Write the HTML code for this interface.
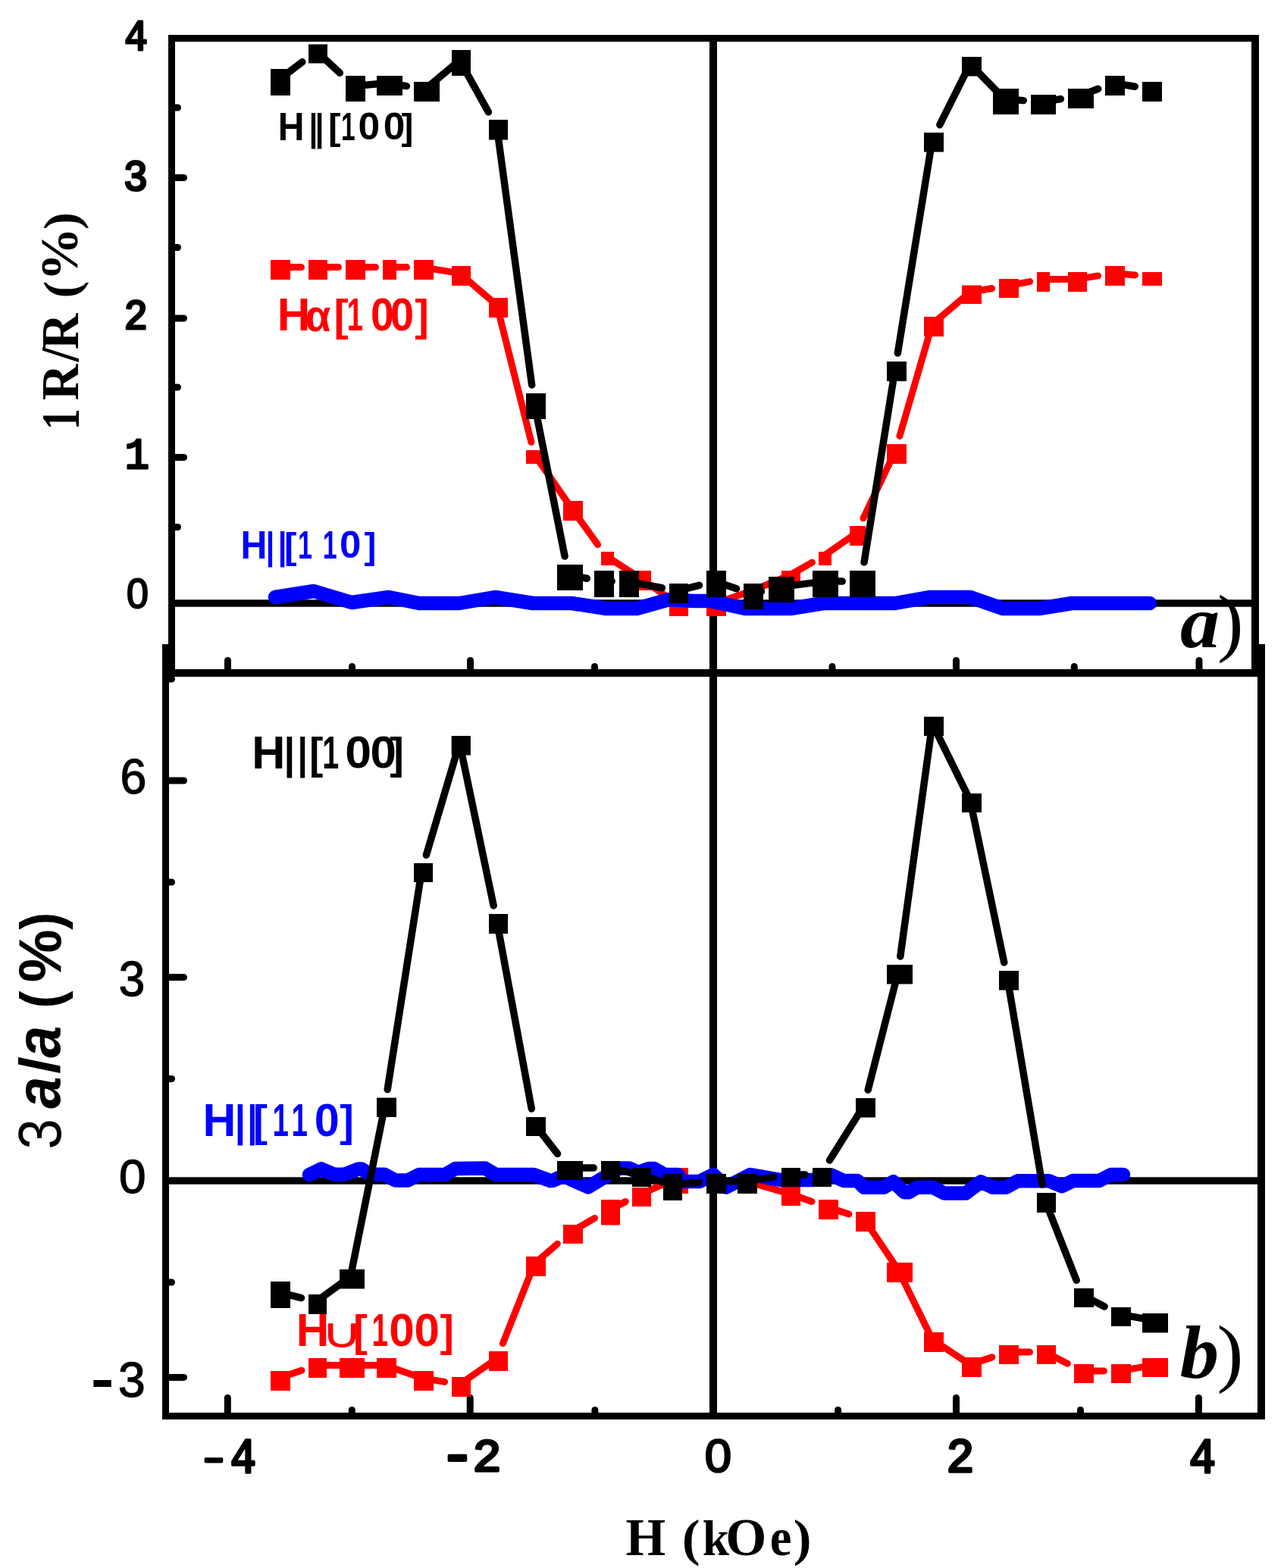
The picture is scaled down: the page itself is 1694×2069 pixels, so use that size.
<!DOCTYPE html>
<html><head><meta charset="utf-8"><title>plot</title>
<style>html,body{margin:0;padding:0;background:#fff;}svg{display:block;}</style></head>
<body><svg width="1694" height="2069" viewBox="0 0 1694 2069">
<rect width="1694" height="2069" fill="#fff"/>
<path d="M214 850H1669V1873H214Z M223 859V1864H1659V859Z" fill="#000" fill-rule="evenodd"/>
<rect x="222" y="46" width="1439" height="847" fill="#fff"/>
<path d="M222 46H1661V893H222Z M231 55V883H1651V55Z" fill="#000" fill-rule="evenodd"/>
<line x1="231" y1="234.5" x2="242.5" y2="234.5" stroke="#000" stroke-width="9" stroke-linecap="round"/>
<line x1="231" y1="420" x2="242.5" y2="420" stroke="#000" stroke-width="9" stroke-linecap="round"/>
<line x1="231" y1="603.5" x2="242.5" y2="603.5" stroke="#000" stroke-width="9" stroke-linecap="round"/>
<line x1="231" y1="142" x2="234.5" y2="142" stroke="#000" stroke-width="9" stroke-linecap="round"/>
<line x1="231" y1="326.5" x2="234.5" y2="326.5" stroke="#000" stroke-width="9" stroke-linecap="round"/>
<line x1="231" y1="511" x2="234.5" y2="511" stroke="#000" stroke-width="9" stroke-linecap="round"/>
<line x1="231" y1="695.5" x2="234.5" y2="695.5" stroke="#000" stroke-width="9" stroke-linecap="round"/>
<line x1="300.5" y1="883" x2="300.5" y2="871.5" stroke="#000" stroke-width="9" stroke-linecap="round"/>
<line x1="620.5" y1="883" x2="620.5" y2="871.5" stroke="#000" stroke-width="9" stroke-linecap="round"/>
<line x1="1261.5" y1="883" x2="1261.5" y2="871.5" stroke="#000" stroke-width="9" stroke-linecap="round"/>
<line x1="1582" y1="883" x2="1582" y2="871.5" stroke="#000" stroke-width="9" stroke-linecap="round"/>
<line x1="464.5" y1="883" x2="464.5" y2="879.5" stroke="#000" stroke-width="9" stroke-linecap="round"/>
<line x1="784.5" y1="883" x2="784.5" y2="879.5" stroke="#000" stroke-width="9" stroke-linecap="round"/>
<line x1="1098" y1="883" x2="1098" y2="879.5" stroke="#000" stroke-width="9" stroke-linecap="round"/>
<line x1="1417.3" y1="883" x2="1417.3" y2="879.5" stroke="#000" stroke-width="9" stroke-linecap="round"/>
<line x1="223" y1="1030" x2="242.5" y2="1030" stroke="#000" stroke-width="9" stroke-linecap="round"/>
<line x1="223" y1="1289.6" x2="242.5" y2="1289.6" stroke="#000" stroke-width="9" stroke-linecap="round"/>
<line x1="223" y1="1817.4" x2="242.5" y2="1817.4" stroke="#000" stroke-width="9" stroke-linecap="round"/>
<line x1="223" y1="896" x2="226.5" y2="896" stroke="#000" stroke-width="9" stroke-linecap="round"/>
<line x1="223" y1="1164" x2="226.5" y2="1164" stroke="#000" stroke-width="9" stroke-linecap="round"/>
<line x1="223" y1="1423.5" x2="226.5" y2="1423.5" stroke="#000" stroke-width="9" stroke-linecap="round"/>
<line x1="223" y1="1692" x2="226.5" y2="1692" stroke="#000" stroke-width="9" stroke-linecap="round"/>
<line x1="300.3" y1="1864" x2="300.3" y2="1844.5" stroke="#000" stroke-width="9" stroke-linecap="round"/>
<line x1="620.2" y1="1864" x2="620.2" y2="1844.5" stroke="#000" stroke-width="9" stroke-linecap="round"/>
<line x1="1261.5" y1="1864" x2="1261.5" y2="1844.5" stroke="#000" stroke-width="9" stroke-linecap="round"/>
<line x1="1581.4" y1="1864" x2="1581.4" y2="1844.5" stroke="#000" stroke-width="9" stroke-linecap="round"/>
<line x1="464.3" y1="1864" x2="464.3" y2="1860.5" stroke="#000" stroke-width="9" stroke-linecap="round"/>
<line x1="784.9" y1="1864" x2="784.9" y2="1860.5" stroke="#000" stroke-width="9" stroke-linecap="round"/>
<line x1="1105.6" y1="1864" x2="1105.6" y2="1860.5" stroke="#000" stroke-width="9" stroke-linecap="round"/>
<line x1="1425.5" y1="1864" x2="1425.5" y2="1860.5" stroke="#000" stroke-width="9" stroke-linecap="round"/>
<line x1="231" y1="796" x2="1651" y2="796" stroke="#000" stroke-width="9.5" stroke-linecap="butt"/>
<line x1="223" y1="1558" x2="1659" y2="1558" stroke="#000" stroke-width="9.5" stroke-linecap="butt"/>
<line x1="941" y1="55" x2="941" y2="883" stroke="#000" stroke-width="10" stroke-linecap="butt"/>
<line x1="941" y1="893" x2="941" y2="1864" stroke="#000" stroke-width="10" stroke-linecap="butt"/>
<path d="M368 352.6L397.5 352.6M417.5 352.6L446.5 352.6M467 352.6L495.5 352.6M512 352.6L536.5 352.6M557 352.6L606.5 360.6M606.5 360.6L655.5 402.6M655.5 402.6L700.91 583.33M705 599.6L754 670.6M754 670.6L788.61 718.52M799.5 733.6L844 762.6M844 762.6L893.5 796.6M893.5 796.6L943 796.6M943 796.6L992 779.6M992 779.6L1041.5 759.1M1041.5 759.1L1071.47 742.11M1086.5 733.6L1129.5 703.6M1181 595.6L1138.93 683.83M1230 427.6L1186.89 575.4M1230 427.6L1280 385.4M1280 385.4L1308.61 380.55M1329 377.1L1358.63 371.57M1374.5 368.6L1419.5 368.6M1419.5 368.6L1448.6 363.9M1469 360.6L1497.52 362.93" stroke="#f00" stroke-width="9" stroke-linecap="round" fill="none"/>
<path d="M357 343H383V369H357ZM407 343H432V369H407ZM456 343H482V369H456ZM505 343H523V369H505ZM546 343H572V369H546ZM596 351H621V377H596ZM645 393H670V419H645ZM694 594H720V612H694ZM743 661H769V687H743ZM793 728H810V746H793ZM833 753H859V779H833ZM883 787H908V813H883ZM932 787H958V813H932ZM981 770H1007V796H981ZM1031 753H1056V772H1031ZM1080 728H1097V746H1080ZM1121 694H1142V720H1121ZM1170 586H1196V612H1170ZM1219 418H1245V444H1219ZM1269 376.6H1295V401H1269ZM1318 368H1344V393H1318ZM1368 359H1385V385H1368ZM1409 359H1434V385H1409ZM1458 351H1484V377H1458ZM1507 359H1533V377H1507Z" fill="#f00"/>
<path d="M363 788L414 780L464 795L513 788L553 796L606 796L653 788L703 796L754 796L800 803L840 803L883 791L914 793L937 793L983 803L1043 803L1086 796L1181 796L1226 788L1280 788L1323 803L1371 803L1414 796L1517 796" stroke="#00f" stroke-width="18.5" stroke-linecap="round" stroke-linejoin="round" fill="none"/>
<path d="M368 105.1L398.82 81.75M417.5 67.6L448.32 96.24M467 113.6L512 109.6M512 109.6L536.35 113.58M561 117.6L606.5 79.6M606.5 79.6L644.36 147.82M655.5 167.9L701.65 507.92M705 532.6L745.1 734M750 758.6L774.38 763.21M795 767.1L807.25 767.1M828 767.1L873.39 775.76M893.5 779.6L922.49 772.28M943 767.1L971.66 776.75M992 783.6L1004.47 780.57M1029 774.6L1087 767.1M1087 767.1L1111.25 767.1M1181 486.6L1140.04 741.95M1230 184.4L1184.35 465.95M1280 84.4L1239.87 164.67M1280 84.4L1325 130.6M1325 130.6L1350.28 132.64M1374.5 134.6L1399.35 130.58M1424 126.6L1448.75 117.25M1469 109.6L1497.35 114.23" stroke="#000" stroke-width="9.5" stroke-linecap="round" fill="none"/>
<path d="M357 91H383V126H357ZM407 58.6H432V83.4H407ZM456 100H482V134H456ZM497 100H531V126H497ZM546 108H580V134H546ZM596 66H621V100H596ZM645 158H670V184.6H645ZM694 519H720V553H694ZM735 745H769V779H735ZM784 753H810V788H784ZM817 753H843V788H817ZM883 770H908V796H883ZM932 753H958V788H932ZM981 770H1007V804H981ZM1014 761H1048V795H1014ZM1072 753H1106V788H1072ZM1121 753H1155V788H1121ZM1170 477H1196V503H1170ZM1219 175H1245V200.6H1219ZM1269 75H1295V100.6H1269ZM1310 117H1344V151H1310ZM1360 125H1393V151H1360ZM1409 117H1443V143H1409ZM1458 100H1484V126H1458ZM1507 108H1533V134H1507Z" fill="#000"/>
<path d="M368 1818.6L397.91 1808.22M417 1801.6L462.5 1801.6M462.5 1801.6L508 1801.6M508 1801.6L557 1818.6M557 1818.6L586.6 1823.38M606.5 1826.6L655.5 1792.6M705 1667.6L663.41 1772.63M705 1667.6L735.33 1641.29M754 1625.1L784.51 1607.41M803.5 1596.4L825.28 1585.62M844.5 1576.1L893 1554.6M893 1554.6L943 1558.6M943 1558.6L984 1558.6M984 1558.6L1041.5 1575.1M1041.5 1575.1L1070.93 1585.5M1091 1592.6L1119.87 1602.03M1140 1608.6L1185 1675.6M1185 1675.6L1230 1767.6M1230 1767.6L1280 1800.6M1280 1800.6L1308.89 1790.87M1329 1784.1L1358.5 1784.1M1378.5 1784.1L1408.31 1799.15M1428 1809.1L1456.5 1809.1M1477 1809.1L1522 1801.1" stroke="#f00" stroke-width="9" stroke-linecap="round" fill="none"/>
<path d="M357 1809H383V1835H357ZM407 1792H431V1818H407ZM448 1792H481V1818H448ZM497 1792H523V1818H497ZM546 1809H572V1835H546ZM596 1817H621V1843H596ZM645 1783H670V1809H645ZM694 1658H720V1684H694ZM743 1616H769V1641H743ZM793 1583H818V1616.6H793ZM834 1567H859V1592H834ZM882 1541H908V1575H882ZM932 1549H958V1575H932ZM973 1549H999V1575H973ZM1031 1566H1056V1591H1031ZM1080 1583H1106V1609H1080ZM1129 1599H1155V1625H1129ZM1170 1666H1204V1692H1170ZM1219 1758H1245V1784H1219ZM1269 1791H1295V1817H1269ZM1318 1775H1344V1800H1318ZM1368 1775H1393V1800H1368ZM1417 1800H1443V1825H1417ZM1466 1800H1492V1825H1466ZM1507 1792H1541V1817H1507Z" fill="#f00"/>
<path d="M408 1550L424 1542.4L441 1549.8L454 1549.8L473 1542.4L477 1542.4L488 1549.8L507 1549.8L522 1557.6L538 1557.6L553 1550L587 1550L601 1542L640 1541.6L654 1550L704 1550L726 1558L730 1557.5L743 1551.5L776 1566.4L817 1541.4L830 1541.4L842 1547L856 1542L863 1542L877 1550L894 1550L900 1558.9L923 1558.9L941 1550L958 1566.5L990 1550L1030 1557L1072 1557L1097 1550.6L1113 1557.9L1131 1557.9L1140 1566.8L1166 1566.8L1178.6 1559.3L1193 1573.2L1199 1573.2L1210 1566.8L1231 1566.8L1246 1574.6L1274 1574.6L1294 1559.3L1310 1566.8L1327 1566.8L1343 1558.2L1384 1558.2L1401 1565.3L1416 1557.9L1450 1557.9L1466 1549.9L1482 1549.9" stroke="#00f" stroke-width="18.5" stroke-linecap="round" stroke-linejoin="round" fill="none"/>
<path d="M368 1705.1L397.49 1712.62M417 1717.6L462.5 1684.4M462.5 1684.4L508 1457.9M556.5 1148.1L511.19 1437.54M606.3 980.35L562.42 1128.17M606.3 980.35L651.19 1195.01M655.5 1215.6L701.28 1462.98M705 1483.1L735.55 1522.48M750 1541.1L783.25 1541.1M803.5 1541.1L844.5 1550.1M844.5 1550.1L885.5 1563.1M885.5 1563.1L922.27 1560.22M943 1558.6L984 1558.6M984 1558.6L1021.33 1553.08M1041.5 1550.1L1062.25 1550.1M1140 1458.4L1094.46 1531.03M1185 1282.4L1145.19 1438.09M1230 954.95L1187.81 1261.92M1230 954.95L1280 1056.1M1280 1056.1L1324.74 1270.01M1329 1290.4L1375.02 1562.96M1378.5 1583.6L1420.23 1689.39M1428 1709.1L1457.1 1723.95M1477 1734.1L1522 1742.4" stroke="#000" stroke-width="9.5" stroke-linecap="round" fill="none"/>
<path d="M357 1691H383V1726H357ZM407 1708H431V1734H407ZM448 1675H481V1700.6H448ZM497 1448.6H523V1474H497ZM546 1139H571V1164H546ZM595.7 970.9H620.9V996.6H595.7ZM645 1206H670V1232H645ZM694 1474H720V1499H694ZM735 1532H769V1557H735ZM793 1532H818V1557H793ZM834 1541H859V1566H834ZM875 1549H900V1584H875ZM932 1549H958V1575H932ZM973 1549H999V1575H973ZM1031 1541H1056V1566H1031ZM1072 1541H1097V1566H1072ZM1129 1449H1155V1474.6H1129ZM1170 1273H1204V1298.6H1170ZM1219 945.7H1245V971H1219ZM1269 1047H1295V1072H1269ZM1318 1281H1344V1306.6H1318ZM1368 1574H1393V1600H1368ZM1417 1700H1443V1725H1417ZM1466 1725H1492V1750H1466ZM1507 1733H1541V1758.6H1507Z" fill="#000"/>
<text transform="translate(163.96 65.85) scale(0.5179 0.5775)" style="font-family:'Liberation Mono',monospace;stroke:#000;stroke-width:5.5px;stroke-linejoin:round;font-size:100px" fill="#000">4</text>
<text transform="translate(162.85 250.71) scale(0.5385 0.5716)" style="font-family:'Liberation Mono',monospace;stroke:#000;stroke-width:5.5px;stroke-linejoin:round;font-size:100px" fill="#000">3</text>
<text transform="translate(163.6 434.03) scale(0.5250 0.5575)" style="font-family:'Liberation Mono',monospace;stroke:#000;stroke-width:5.5px;stroke-linejoin:round;font-size:100px" fill="#000">2</text>
<text transform="translate(164.85 618.27) scale(0.5370 0.5750)" style="font-family:'Liberation Mono',monospace;stroke:#000;stroke-width:5.5px;stroke-linejoin:round;font-size:100px" fill="#000">1</text>
<text transform="translate(166.96 802.36) scale(0.5192 0.5467)" style="font-family:'Liberation Sans',sans-serif;stroke:#000;stroke-width:4px;font-size:100px" fill="#000">0</text>
<text transform="translate(158.5 1046.71) scale(0.6250 0.6438)" style="font-family:'Liberation Sans',sans-serif;stroke:#000;stroke-width:2px;font-size:100px" fill="#000">6</text>
<text transform="translate(156.74 1314.41) scale(0.6204 0.6452)" style="font-family:'Liberation Sans',sans-serif;stroke:#000;stroke-width:2px;font-size:100px" fill="#000">3</text>
<text transform="translate(157.08 1573.74) scale(0.6400 0.6301)" style="font-family:'Liberation Sans',sans-serif;stroke:#000;stroke-width:2px;font-size:100px" fill="#000">0</text>
<text transform="translate(120.33 1849.8) scale(0.8889 0.9000)" style="font-family:'Liberation Sans',sans-serif;stroke:#000;stroke-width:2px;font-size:100px" fill="#000">-</text>
<text transform="translate(156.07 1842.71) scale(0.6429 0.6438)" style="font-family:'Liberation Sans',sans-serif;stroke:#000;stroke-width:2px;font-size:100px" fill="#000">3</text>
<text transform="translate(259.5 1940.77) scale(0.7500 0.5385)" style="font-family:'Liberation Mono',monospace;stroke:#000;stroke-width:5.5px;stroke-linejoin:round;font-size:100px" fill="#000">-</text>
<text transform="translate(303.86 1942.7) scale(0.5714 0.6479)" style="font-family:'Liberation Mono',monospace;stroke:#000;stroke-width:5.5px;stroke-linejoin:round;font-size:100px" fill="#000">4</text>
<text transform="translate(580.06 1945.38) scale(0.7812 0.7692)" style="font-family:'Liberation Mono',monospace;stroke:#000;stroke-width:5.5px;stroke-linejoin:round;font-size:100px" fill="#000">-</text>
<text transform="translate(623.46 1941.18) scale(0.6346 0.6082)" style="font-family:'Liberation Mono',monospace;stroke:#000;stroke-width:5.5px;stroke-linejoin:round;font-size:100px" fill="#000">2</text>
<text transform="translate(929.73 1942.18) scale(0.6346 0.6053)" style="font-family:'Liberation Sans',sans-serif;stroke:#000;stroke-width:4px;font-size:100px" fill="#000">0</text>
<text transform="translate(1248.54 1942.11) scale(0.6154 0.6301)" style="font-family:'Liberation Mono',monospace;stroke:#000;stroke-width:5.5px;stroke-linejoin:round;font-size:100px" fill="#000">2</text>
<text transform="translate(1568.82 1942.7) scale(0.5893 0.6479)" style="font-family:'Liberation Mono',monospace;stroke:#000;stroke-width:5.5px;stroke-linejoin:round;font-size:100px" fill="#000">4</text>
<text transform="translate(104 567.2) rotate(-90) scale(0.5622 0.7121)" style="font-family:'Liberation Serif',serif;font-weight:bold;font-size:100px" fill="#000">1</text>
<text transform="translate(103.1 528.32) rotate(-90) scale(0.6620 0.6969)" style="font-family:'Liberation Serif',serif;font-weight:bold;font-size:100px" fill="#000">R</text>
<text transform="translate(103.29 477.23) rotate(-90) scale(0.6667 0.7121)" style="font-family:'Liberation Serif',serif;font-weight:bold;font-size:100px" fill="#000">/</text>
<text transform="translate(103.1 461.32) rotate(-90) scale(0.6620 0.6969)" style="font-family:'Liberation Serif',serif;font-weight:bold;font-size:100px" fill="#000">R</text>
<text transform="translate(102.92 393.44) rotate(-90) scale(0.6846 0.6656)" style="font-family:'Liberation Serif',serif;font-weight:bold;font-size:100px" fill="#000">(</text>
<text transform="translate(102.31 370.66) rotate(-90) scale(0.7062 0.6970)" style="font-family:'Liberation Serif',serif;font-weight:bold;font-size:100px" fill="#000">%</text>
<text transform="translate(102.92 303.09) rotate(-90) scale(0.6962 0.6656)" style="font-family:'Liberation Serif',serif;font-weight:bold;font-size:100px" fill="#000">)</text>
<text transform="translate(80.01 1516.39) rotate(-90) scale(0.7234 0.7887)" style="font-family:'Liberation Sans','DejaVu Sans',sans-serif;font-size:100px" fill="#000">3</text>
<text transform="translate(79.07 1462.76) rotate(-90) scale(0.7596 0.8345)" style="font-family:'Liberation Sans','DejaVu Sans',sans-serif;font-weight:bold;font-style:italic;font-size:100px" fill="#000">a</text>
<text transform="translate(78.27 1416.81) rotate(-90) scale(0.8077 0.7324)" style="font-family:'Liberation Sans','DejaVu Sans',sans-serif;font-weight:bold;font-size:100px" fill="#000">/</text>
<text transform="translate(79.07 1395.76) rotate(-90) scale(0.7596 0.8345)" style="font-family:'Liberation Sans','DejaVu Sans',sans-serif;font-weight:bold;font-style:italic;font-size:100px" fill="#000">a</text>
<text transform="translate(80.02 1330.45) rotate(-90) scale(0.6893 0.7564)" style="font-family:'Liberation Sans','DejaVu Sans',sans-serif;font-weight:bold;font-size:100px" fill="#000">(</text>
<text transform="translate(80 1296.36) rotate(-90) scale(0.7867 0.8000)" style="font-family:'Liberation Sans','DejaVu Sans',sans-serif;font-weight:bold;font-size:100px" fill="#000">%</text>
<text transform="translate(80.02 1226.8) rotate(-90) scale(0.6857 0.7564)" style="font-family:'Liberation Sans','DejaVu Sans',sans-serif;font-weight:bold;font-size:100px" fill="#000">)</text>
<text transform="translate(825.55 2052) scale(0.6770 0.6938)" style="font-family:'Liberation Serif',serif;font-weight:bold;font-size:100px" fill="#000">H</text>
<text transform="translate(899.84 2052.16) scale(0.7154 0.6733)" style="font-family:'Liberation Serif',serif;font-weight:bold;font-size:100px" fill="#000">(</text>
<text transform="translate(926.63 2052) scale(0.6340 0.6536)" style="font-family:'Liberation Serif',serif;font-weight:bold;font-size:100px" fill="#000">k</text>
<text transform="translate(957.32 2051.59) scale(0.6956 0.7060)" style="font-family:'Liberation Serif',serif;font-weight:bold;font-size:100px" fill="#000">O</text>
<text transform="translate(1015.86 2052.31) scale(0.6462 0.6896)" style="font-family:'Liberation Serif',serif;font-weight:bold;font-size:100px" fill="#000">e</text>
<text transform="translate(1046.65 2052.16) scale(0.7154 0.6733)" style="font-family:'Liberation Serif',serif;font-weight:bold;font-size:100px" fill="#000">)</text>
<text transform="translate(1556.96 854.02) scale(1.0435 0.9792)" style="font-family:'Liberation Serif',serif;font-weight:bold;font-style:italic;font-size:100px" fill="#000">a</text>
<text transform="translate(1605.88 854) scale(1.0385 1.0000)" style="font-family:'Liberation Serif',serif;font-size:100px" fill="#000">)</text>
<text transform="translate(1556.75 1818.01) scale(1.0267 0.9857)" style="font-family:'Liberation Serif',serif;font-weight:bold;font-style:italic;font-size:100px" fill="#000">b</text>
<text transform="translate(1605.55 1817.98) scale(1.0500 1.0011)" style="font-family:'Liberation Serif',serif;font-size:100px" fill="#000">)</text>
<text transform="translate(366.63 184.7) scale(0.4810 0.5188)" style="font-family:'Liberation Sans','DejaVu Sans',sans-serif;font-weight:bold;font-size:100px" fill="#000">H</text>
<text transform="translate(407.83 184.86) scale(0.4083 0.4926)" style="font-family:'Liberation Sans','DejaVu Sans',sans-serif;font-weight:bold;font-size:100px" fill="#000">|</text>
<text transform="translate(415.67 184.86) scale(0.4167 0.4926)" style="font-family:'Liberation Sans','DejaVu Sans',sans-serif;font-weight:bold;font-size:100px" fill="#000">|</text>
<text transform="translate(433.02 184.47) scale(0.4962 0.4872)" style="font-family:'Liberation Sans','DejaVu Sans',sans-serif;font-weight:bold;font-size:100px" fill="#000">[</text>
<text transform="translate(450.08 184.7) scale(0.3362 0.5188)" style="font-family:'Liberation Sans','DejaVu Sans',sans-serif;font-weight:bold;font-size:100px" fill="#000">1</text>
<text transform="translate(472.53 184.2) scale(0.5170 0.5042)" style="font-family:'Liberation Sans','DejaVu Sans',sans-serif;font-weight:bold;font-size:100px" fill="#000">0</text>
<text transform="translate(505.84 184.2) scale(0.5149 0.5042)" style="font-family:'Liberation Sans','DejaVu Sans',sans-serif;font-weight:bold;font-size:100px" fill="#000">0</text>
<text transform="translate(529.52 184.47) scale(0.4778 0.4872)" style="font-family:'Liberation Sans','DejaVu Sans',sans-serif;font-weight:bold;font-size:100px" fill="#000">]</text>
<text transform="translate(365.78 436) scale(0.6034 0.6087)" style="font-family:'Liberation Sans','DejaVu Sans',sans-serif;font-weight:bold;font-size:100px" fill="#f00">H</text>
<text transform="translate(402.81 437.3) scale(0.5482 0.5982)" style="font-family:'Liberation Sans','DejaVu Sans',sans-serif;font-weight:bold;font-size:100px" fill="#f00">α</text>
<text transform="translate(440.56 435.86) scale(0.5731 0.5734)" style="font-family:'Liberation Sans','DejaVu Sans',sans-serif;font-weight:bold;font-size:100px" fill="#f00">[</text>
<text transform="translate(457.71 436) scale(0.3809 0.6087)" style="font-family:'Liberation Sans','DejaVu Sans',sans-serif;font-weight:bold;font-size:100px" fill="#f00">1</text>
<text transform="translate(488.89 436.3) scale(0.5532 0.6042)" style="font-family:'Liberation Sans','DejaVu Sans',sans-serif;font-weight:bold;font-size:100px" fill="#f00">0</text>
<text transform="translate(514.84 436.3) scale(0.5638 0.6042)" style="font-family:'Liberation Sans','DejaVu Sans',sans-serif;font-weight:bold;font-size:100px" fill="#f00">0</text>
<text transform="translate(547.34 435.86) scale(0.5556 0.5734)" style="font-family:'Liberation Sans','DejaVu Sans',sans-serif;font-weight:bold;font-size:100px" fill="#f00">]</text>
<text transform="translate(317.62 736.9) scale(0.4828 0.5203)" style="font-family:'Liberation Sans','DejaVu Sans',sans-serif;font-weight:bold;font-size:100px" fill="#00f">H</text>
<text transform="translate(350.73 737.04) scale(0.4083 0.4937)" style="font-family:'Liberation Sans','DejaVu Sans',sans-serif;font-weight:bold;font-size:100px" fill="#00f">|</text>
<text transform="translate(366.67 737.04) scale(0.4167 0.4937)" style="font-family:'Liberation Sans','DejaVu Sans',sans-serif;font-weight:bold;font-size:100px" fill="#00f">|</text>
<text transform="translate(375.12 736.65) scale(0.4962 0.4883)" style="font-family:'Liberation Sans','DejaVu Sans',sans-serif;font-weight:bold;font-size:100px" fill="#00f">[</text>
<text transform="translate(392.96 736.9) scale(0.3404 0.5203)" style="font-family:'Liberation Sans','DejaVu Sans',sans-serif;font-weight:bold;font-size:100px" fill="#00f">1</text>
<text transform="translate(425.86 736.9) scale(0.3404 0.5203)" style="font-family:'Liberation Sans','DejaVu Sans',sans-serif;font-weight:bold;font-size:100px" fill="#00f">1</text>
<text transform="translate(447.96 736.39) scale(0.5106 0.5056)" style="font-family:'Liberation Sans','DejaVu Sans',sans-serif;font-weight:bold;font-size:100px" fill="#00f">0</text>
<text transform="translate(480.62 736.65) scale(0.4778 0.4883)" style="font-family:'Liberation Sans','DejaVu Sans',sans-serif;font-weight:bold;font-size:100px" fill="#00f">]</text>
<text transform="translate(332.33 1013.7) scale(0.6103 0.6130)" style="font-family:'Liberation Sans','DejaVu Sans',sans-serif;font-weight:bold;font-size:100px" fill="#000">H</text>
<text transform="translate(374.4 1013.82) scale(0.5250 0.5811)" style="font-family:'Liberation Sans','DejaVu Sans',sans-serif;font-weight:bold;font-size:100px" fill="#000">|</text>
<text transform="translate(392.5 1013.82) scale(0.4750 0.5811)" style="font-family:'Liberation Sans','DejaVu Sans',sans-serif;font-weight:bold;font-size:100px" fill="#000">|</text>
<text transform="translate(408.1 1013.57) scale(0.5500 0.5777)" style="font-family:'Liberation Sans','DejaVu Sans',sans-serif;font-weight:bold;font-size:100px" fill="#000">[</text>
<text transform="translate(425.33 1013.7) scale(0.3957 0.6130)" style="font-family:'Liberation Sans','DejaVu Sans',sans-serif;font-weight:bold;font-size:100px" fill="#000">1</text>
<text transform="translate(455.2 1013.1) scale(0.6255 0.5958)" style="font-family:'Liberation Sans','DejaVu Sans',sans-serif;font-weight:bold;font-size:100px" fill="#000">0</text>
<text transform="translate(488.42 1013.1) scale(0.6191 0.5958)" style="font-family:'Liberation Sans','DejaVu Sans',sans-serif;font-weight:bold;font-size:100px" fill="#000">0</text>
<text transform="translate(514.34 1013.57) scale(0.5593 0.5777)" style="font-family:'Liberation Sans','DejaVu Sans',sans-serif;font-weight:bold;font-size:100px" fill="#000">]</text>
<text transform="translate(267.45 1498.9) scale(0.6069 0.6087)" style="font-family:'Liberation Sans','DejaVu Sans',sans-serif;font-weight:bold;font-size:100px" fill="#00f">H</text>
<text transform="translate(309.83 1499.16) scale(0.5083 0.5789)" style="font-family:'Liberation Sans','DejaVu Sans',sans-serif;font-weight:bold;font-size:100px" fill="#00f">|</text>
<text transform="translate(326.2 1499.16) scale(0.4750 0.5789)" style="font-family:'Liberation Sans','DejaVu Sans',sans-serif;font-weight:bold;font-size:100px" fill="#00f">|</text>
<text transform="translate(333.64 1498.68) scale(0.5769 0.5723)" style="font-family:'Liberation Sans','DejaVu Sans',sans-serif;font-weight:bold;font-size:100px" fill="#00f">[</text>
<text transform="translate(359.59 1498.9) scale(0.3851 0.6087)" style="font-family:'Liberation Sans','DejaVu Sans',sans-serif;font-weight:bold;font-size:100px" fill="#00f">1</text>
<text transform="translate(384.59 1498.9) scale(0.3851 0.6087)" style="font-family:'Liberation Sans','DejaVu Sans',sans-serif;font-weight:bold;font-size:100px" fill="#00f">1</text>
<text transform="translate(414.73 1499.39) scale(0.5936 0.6070)" style="font-family:'Liberation Sans','DejaVu Sans',sans-serif;font-weight:bold;font-size:100px" fill="#00f">0</text>
<text transform="translate(448.34 1498.68) scale(0.5593 0.5723)" style="font-family:'Liberation Sans','DejaVu Sans',sans-serif;font-weight:bold;font-size:100px" fill="#00f">]</text>
<text transform="translate(390.78 1776) scale(0.6034 0.6101)" style="font-family:'Liberation Sans','DejaVu Sans',sans-serif;font-weight:bold;font-size:100px" fill="#f00">H</text>
<text transform="translate(423.09 1777.9) scale(0.7702 0.5500)" style="font-family:'DejaVu Sans',sans-serif;font-size:100px" fill="#f00">∪</text>
<text transform="translate(465.91 1775.84) scale(0.5654 0.5745)" style="font-family:'Liberation Sans','DejaVu Sans',sans-serif;font-weight:bold;font-size:100px" fill="#f00">[</text>
<text transform="translate(490.58 1776) scale(0.3872 0.6101)" style="font-family:'Liberation Sans','DejaVu Sans',sans-serif;font-weight:bold;font-size:100px" fill="#f00">1</text>
<text transform="translate(513.29 1776.39) scale(0.6021 0.6070)" style="font-family:'Liberation Sans','DejaVu Sans',sans-serif;font-weight:bold;font-size:100px" fill="#f00">0</text>
<text transform="translate(546.5 1776.39) scale(0.6000 0.6070)" style="font-family:'Liberation Sans','DejaVu Sans',sans-serif;font-weight:bold;font-size:100px" fill="#f00">0</text>
<text transform="translate(580.55 1775.84) scale(0.5519 0.5745)" style="font-family:'Liberation Sans','DejaVu Sans',sans-serif;font-weight:bold;font-size:100px" fill="#f00">]</text>
</svg></body></html>
